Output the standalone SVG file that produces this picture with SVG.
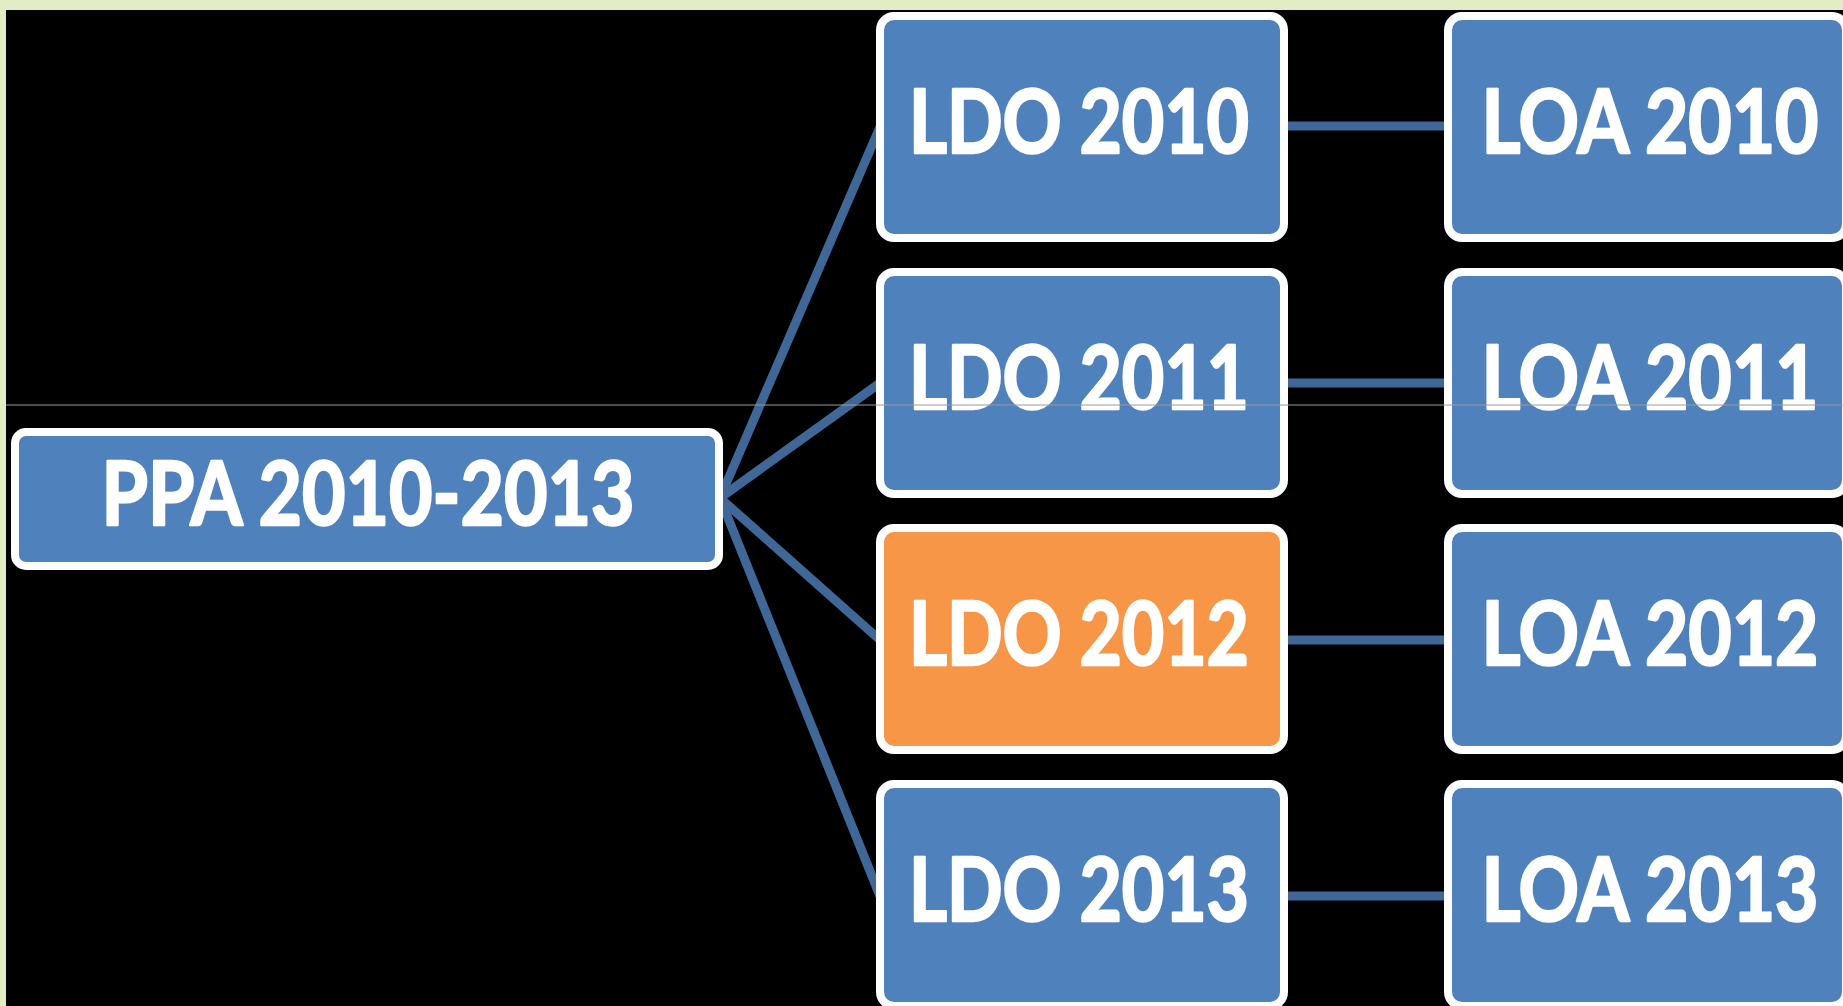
<svg xmlns="http://www.w3.org/2000/svg" width="1843" height="1006" viewBox="0 0 1843 1006">
<style>
.box{fill:#4F81BD;stroke:#FFFFFF;stroke-width:8}
.hl{fill:#F79646}
.lbl{font-family:Lato,"Open Sans","Liberation Sans",sans-serif;font-weight:700;font-size:88px;fill:#FFFFFF;stroke:#FFFFFF;stroke-width:2.5;stroke-linejoin:round;text-anchor:middle}
.con{stroke:#3F6797;fill:none;stroke-width:9;stroke-linecap:butt}
</style>
<rect x="0" y="0" width="1843" height="1006" fill="#E2EDC6"/>
<rect x="6" y="10" width="1837" height="996" fill="#000000"/>
<g id="connectors">
<line class="con" x1="720" y1="498" x2="880" y2="127"/>
<line class="con" x1="720" y1="498" x2="880" y2="383"/>
<line class="con" x1="720" y1="498" x2="880" y2="640"/>
<line class="con" x1="720" y1="498" x2="880" y2="896"/>
<line class="con" x1="1284" y1="126" x2="1448" y2="126"/>
<line class="con" x1="1284" y1="383" x2="1448" y2="383"/>
<line class="con" x1="1284" y1="640" x2="1448" y2="640"/>
<line class="con" x1="1284" y1="896" x2="1448" y2="896"/>
</g>
<g id="ppa">
<rect class="box" x="15" y="432" width="704" height="134" rx="11"/>
<text class="lbl" x="368" y="525" textLength="533" lengthAdjust="spacingAndGlyphs">PPA 2010-2013</text>
</g>
<g id="ldo2010">
<rect class="box" x="880" y="16" width="404" height="222" rx="14"/>
<text class="lbl" x="1079" y="153" textLength="340" lengthAdjust="spacingAndGlyphs">LDO 2010</text>
</g>
<g id="ldo2011">
<rect class="box" x="880" y="272" width="404" height="222" rx="14"/>
<text class="lbl" x="1079" y="409" textLength="340" lengthAdjust="spacingAndGlyphs">LDO 2011</text>
</g>
<g id="ldo2012">
<rect class="box hl" x="880" y="528" width="404" height="222" rx="14"/>
<text class="lbl" x="1079" y="665" textLength="340" lengthAdjust="spacingAndGlyphs">LDO 2012</text>
</g>
<g id="ldo2013">
<rect class="box" x="880" y="784" width="404" height="222" rx="14"/>
<text class="lbl" x="1079" y="921" textLength="340" lengthAdjust="spacingAndGlyphs">LDO 2013</text>
</g>
<g id="loa2010">
<rect class="box" x="1448" y="16" width="398" height="222" rx="14"/>
<text class="lbl" x="1650" y="153" textLength="337" lengthAdjust="spacingAndGlyphs">LOA 2010</text>
</g>
<g id="loa2011">
<rect class="box" x="1448" y="272" width="398" height="222" rx="14"/>
<text class="lbl" x="1650" y="409" textLength="337" lengthAdjust="spacingAndGlyphs">LOA 2011</text>
</g>
<g id="loa2012">
<rect class="box" x="1448" y="528" width="398" height="222" rx="14"/>
<text class="lbl" x="1650" y="665" textLength="337" lengthAdjust="spacingAndGlyphs">LOA 2012</text>
</g>
<g id="loa2013">
<rect class="box" x="1448" y="784" width="398" height="222" rx="14"/>
<text class="lbl" x="1650" y="921" textLength="337" lengthAdjust="spacingAndGlyphs">LOA 2013</text>
</g>
<line x1="6" y1="405" x2="1843" y2="405" stroke="#9A9A9A" stroke-width="1"/>
</svg>
